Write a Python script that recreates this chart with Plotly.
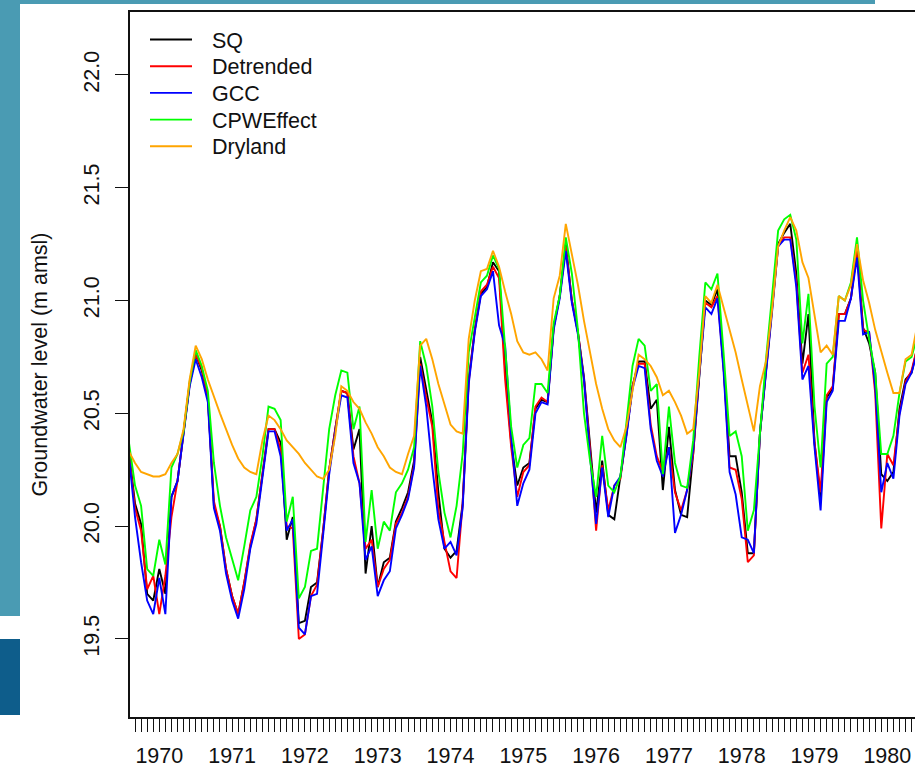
import plotly.graph_objects as go

# ---------------- data (monthly, starting Aug 1969) ----------------
start_year = 1969
start_month = 8

sq = [20.33, 20.10, 20.01, 19.70, 19.67, 19.81, 19.70, 20.13, 20.20, 20.41,
      20.63, 20.76, 20.69, 20.57, 20.09, 20.00, 19.81, 19.69, 19.61, 19.75,
      19.91, 20.03, 20.24, 20.43, 20.43, 20.37, 19.94, 20.04, 19.57, 19.58,
      19.73, 19.75, 19.98, 20.25, 20.43, 20.60, 20.59, 20.34, 20.43, 19.79,
      20.00, 19.73, 19.84, 19.86, 20.02, 20.08, 20.15, 20.29, 20.75, 20.60,
      20.46, 20.15, 19.90, 19.86, 19.89, 20.10, 20.65, 20.87, 21.03, 21.06,
      21.17, 21.13, 20.70, 20.37, 20.18, 20.26, 20.28, 20.52, 20.56, 20.55,
      20.88, 21.02, 21.25, 21.00, 20.86, 20.66, 20.35, 20.06, 20.29, 20.05,
      20.03, 20.21, 20.41, 20.62, 20.73, 20.73, 20.52, 20.56, 20.16, 20.44,
      20.16, 20.05, 20.04, 20.32, 20.68, 21.00, 20.98, 21.05, 20.71, 20.31,
      20.31, 20.15, 19.88, 19.88, 20.41, 20.68, 20.96, 21.25, 21.30, 21.34,
      21.12, 20.72, 20.94, 20.37, 20.12, 20.57, 20.61, 20.94, 20.94, 21.01,
      21.23, 20.88, 20.81, 20.68, 20.23, 20.20, 20.24, 20.52, 20.65, 20.68,
      20.80]

detrended = [20.32, 20.08, 19.98, 19.72, 19.78, 19.61, 19.78, 20.04, 20.20, 20.41,
             20.63, 20.76, 20.70, 20.57, 20.11, 20.00, 19.81, 19.69, 19.61, 19.75,
             19.92, 20.03, 20.24, 20.43, 20.43, 20.34, 20.00, 19.99, 19.50, 19.52,
             19.69, 19.74, 19.98, 20.25, 20.43, 20.60, 20.59, 20.31, 20.19, 19.90,
             19.94, 19.73, 19.81, 19.85, 20.01, 20.06, 20.13, 20.27, 20.72, 20.57,
             20.44, 20.07, 19.93, 19.80, 19.77, 20.10, 20.64, 20.87, 21.04, 21.07,
             21.15, 21.10, 20.65, 20.35, 20.13, 20.24, 20.27, 20.53, 20.57, 20.55,
             20.88, 21.02, 21.24, 21.00, 20.86, 20.65, 20.34, 19.98, 20.27, 20.07,
             20.18, 20.21, 20.41, 20.62, 20.72, 20.72, 20.45, 20.31, 20.24, 20.35,
             20.15, 20.07, 20.16, 20.32, 20.68, 20.99, 20.97, 21.02, 20.71, 20.26,
             20.25, 20.12, 19.84, 19.87, 20.41, 20.68, 20.96, 21.24, 21.28, 21.28,
             21.08, 20.68, 20.76, 20.37, 20.15, 20.58, 20.62, 20.94, 20.94, 21.01,
             21.22, 20.87, 20.86, 20.59, 19.99, 20.32, 20.27, 20.50, 20.64, 20.69,
             20.80]

gcc = [20.31, 20.04, 19.84, 19.67, 19.61, 19.77, 19.61, 20.13, 20.20, 20.41,
       20.62, 20.74, 20.66, 20.55, 20.08, 19.98, 19.79, 19.67, 19.59, 19.72,
       19.90, 20.01, 20.22, 20.42, 20.42, 20.31, 19.98, 20.03, 19.55, 19.52,
       19.69, 19.70, 19.96, 20.23, 20.42, 20.58, 20.57, 20.28, 20.19, 19.85,
       19.91, 19.69, 19.76, 19.80, 19.99, 20.05, 20.12, 20.26, 20.71, 20.53,
       20.26, 20.03, 19.90, 19.93, 19.87, 20.08, 20.63, 20.86, 21.02, 21.05,
       21.13, 20.89, 20.80, 20.40, 20.09, 20.19, 20.25, 20.50, 20.55, 20.54,
       20.87, 21.01, 21.22, 20.99, 20.85, 20.65, 20.31, 20.01, 20.26, 20.04,
       20.18, 20.22, 20.40, 20.61, 20.71, 20.70, 20.43, 20.29, 20.22, 20.35,
       19.97, 20.05, 20.16, 20.34, 20.67, 20.97, 20.94, 21.01, 20.69, 20.24,
       20.14, 19.95, 19.94, 19.88, 20.41, 20.67, 20.95, 21.24, 21.27, 21.27,
       21.06, 20.65, 20.71, 20.35, 20.07, 20.55, 20.60, 20.91, 20.91, 21.01,
       21.19, 20.85, 20.86, 20.62, 20.15, 20.28, 20.21, 20.49, 20.63, 20.68,
       20.78]

cpweffect = [20.37, 20.18, 20.09, 19.81, 19.78, 19.94, 19.83, 20.26, 20.32, 20.42,
             20.64, 20.78, 20.71, 20.60, 20.28, 20.09, 19.95, 19.85, 19.76, 19.91,
             20.07, 20.13, 20.31, 20.53, 20.52, 20.47, 20.02, 20.13, 19.68, 19.73,
             19.89, 19.90, 20.16, 20.43, 20.58, 20.69, 20.68, 20.43, 20.53, 19.93,
             20.16, 19.90, 20.02, 19.98, 20.15, 20.19, 20.25, 20.35, 20.82, 20.71,
             20.53, 20.24, 20.06, 19.95, 20.09, 20.32, 20.77, 20.93, 21.08, 21.11,
             21.20, 21.14, 20.77, 20.44, 20.26, 20.36, 20.39, 20.63, 20.63, 20.59,
             20.90, 21.02, 21.28, 21.12, 20.87, 20.50, 20.29, 20.13, 20.40, 20.18,
             20.15, 20.22, 20.46, 20.71, 20.83, 20.80, 20.60, 20.63, 20.23, 20.53,
             20.28, 20.18, 20.17, 20.38, 20.75, 21.08, 21.05, 21.12, 20.77, 20.40,
             20.42, 20.31, 19.98, 20.07, 20.41, 20.74, 21.02, 21.31, 21.36, 21.38,
             21.27, 20.81, 21.03, 20.53, 20.26, 20.72, 20.75, 21.02, 21.00, 21.08,
             21.28, 21.00, 20.83, 20.68, 20.32, 20.32, 20.40, 20.59, 20.73, 20.75,
             20.85]

dryland = [20.33, 20.28, 20.24, 20.23, 20.22, 20.22, 20.23, 20.28, 20.32, 20.43,
           20.65, 20.80, 20.74, 20.65, 20.57, 20.50, 20.43, 20.36, 20.30, 20.26,
           20.24, 20.23, 20.38, 20.49, 20.47, 20.43, 20.38, 20.35, 20.32, 20.28,
           20.25, 20.22, 20.21, 20.25, 20.40, 20.62, 20.60, 20.55, 20.52, 20.46,
           20.41, 20.35, 20.31, 20.26, 20.24, 20.23, 20.32, 20.40, 20.80, 20.83,
           20.74, 20.63, 20.54, 20.45, 20.42, 20.41, 20.83, 21.00, 21.13, 21.14,
           21.22, 21.15, 21.04, 20.94, 20.82, 20.77, 20.76, 20.77, 20.74, 20.69,
           21.01, 21.11, 21.34, 21.21, 21.07, 20.91, 20.77, 20.63, 20.52, 20.43,
           20.38, 20.35, 20.44, 20.60, 20.76, 20.74, 20.71, 20.66, 20.58, 20.60,
           20.55, 20.49, 20.41, 20.43, 20.68, 21.02, 20.99, 21.07, 20.97, 20.87,
           20.77, 20.65, 20.53, 20.42, 20.62, 20.73, 20.96, 21.24, 21.31, 21.37,
           21.31, 21.17, 21.10, 20.94, 20.77, 20.80, 20.76, 21.02, 21.00, 21.07,
           21.25, 21.09, 20.99, 20.87, 20.77, 20.68, 20.59, 20.59, 20.74, 20.76,
           20.90]

series_names = ["SQ", "Detrended", "GCC", "CPWEffect", "Dryland"]
series_colors = ["#000000", "#FF0000", "#0000FF", "#00FF00", "#FFA500"]
year_labels = [1970, 1971, 1972, 1973, 1974, 1975, 1976, 1977, 1978, 1979, 1980]
y_ticks = [19.5, 20.0, 20.5, 21.0, 21.5, 22.0]

# decimal-year time axis
t = [start_year + (start_month - 1 + i) / 12.0 for i in range(len(sq))]
month_ticks = [start_year + (start_month + i) / 12.0 for i in range(len(sq))]

# ---------------- figure ----------------
W, H = 915, 768
ML, MR, MT, MB = 130, 0, 12, 51
FONT = "Liberation Sans, Arial, Helvetica, sans-serif"
FS = 21.5
INK = "#111111"

fig = go.Figure()
for name, col, vals in zip(series_names, series_colors,
                           [sq, detrended, gcc, cpweffect, dryland]):
    fig.add_trace(go.Scatter(x=t, y=vals, mode="lines", name=name,
                             line=dict(color=col, width=1.9), showlegend=False))

pw = W - ML - MR
ph = H - MT - MB


def px_x(px):
    return (px - ML) / pw


def px_y(py):
    return (H - MB - py) / ph


teal = "#4A9BB3"
dark = "#0E5D8B"
shapes = [
    dict(type="rect", xref="paper", yref="paper", x0=px_x(0), x1=px_x(20),
         y0=px_y(616), y1=px_y(0), fillcolor=teal, line_width=0, layer="below"),
    dict(type="rect", xref="paper", yref="paper", x0=px_x(0), x1=px_x(20),
         y0=px_y(715), y1=px_y(639), fillcolor=dark, line_width=0, layer="below"),
    dict(type="rect", xref="paper", yref="paper", x0=px_x(0), x1=px_x(875),
         y0=px_y(4), y1=px_y(0), fillcolor=teal, line_width=0, layer="below"),
]

# legend (R-style, drawn as line samples + text labels)
annotations = []
row0, row_step = 39.5, 26.7
for k, (name, col) in enumerate(zip(series_names, series_colors)):
    ry = row0 + k * row_step
    shapes.append(dict(type="line", xref="paper", yref="paper",
                       x0=px_x(150), x1=px_x(192), y0=px_y(ry), y1=px_y(ry),
                       line=dict(color=col, width=1.9)))
    annotations.append(dict(text=name, xref="paper", yref="paper",
                            x=px_x(210), y=px_y(ry + 1.0), xanchor="left",
                            yanchor="middle", showarrow=False,
                            font=dict(size=FS, color=INK, family=FONT)))

fig.update_layout(
    width=W, height=H,
    margin=dict(l=ML, r=MR, t=MT, b=MB, pad=0, autoexpand=False),
    paper_bgcolor="white", plot_bgcolor="white",
    font=dict(family=FONT, size=FS, color=INK),
    showlegend=False,
    shapes=shapes,
    annotations=annotations,
)

fig.update_xaxes(
    range=[1969.5975, 1980.380],
    automargin=False,
    tickmode="array", tickvals=year_labels,
    ticktext=[str(y) for y in year_labels],
    ticks="outside", ticklen=13, tickwidth=1.4, tickcolor=INK,
    minor=dict(tickmode="array", tickvals=month_ticks, ticks="outside",
               ticklen=13, tickwidth=1.4, tickcolor=INK, showgrid=False),
    showline=True, linecolor=INK, linewidth=2, mirror=True,
    showgrid=False, zeroline=False,
    tickfont=dict(size=FS, color=INK),
    ticklabelstandoff=5,
)

fig.update_yaxes(
    range=[19.154, 22.279],
    automargin=False,
    tickmode="array", tickvals=y_ticks,
    ticktext=[f"{v:.1f}" for v in y_ticks],
    tickangle=-90,
    ticks="outside", ticklen=13, tickwidth=1.4, tickcolor=INK,
    showline=True, linecolor=INK, linewidth=2, mirror=False,
    showgrid=False, zeroline=False,
    tickfont=dict(size=FS, color=INK),
    ticklabelstandoff=7,
    title=dict(text="Groundwater level (m amsl)", font=dict(size=FS, color=INK),
               standoff=27),
)

fig.write_html("out.html")
